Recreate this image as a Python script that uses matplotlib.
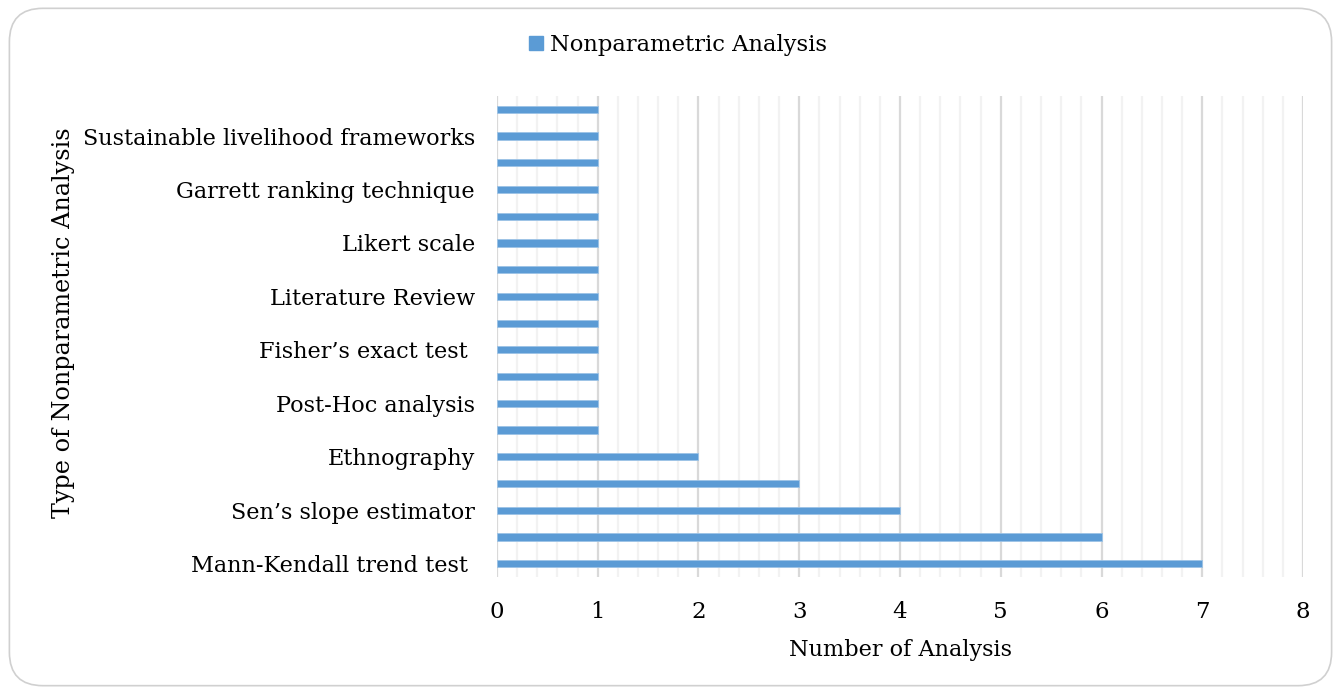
import matplotlib
matplotlib.use("Agg")
import matplotlib.pyplot as plt
from matplotlib.patches import FancyBboxPatch, Patch
from matplotlib.ticker import MultipleLocator

# Categories from bottom to top (only every other label is visible in the reference)
categories = [
    "Mann-Kendall trend test ", "", "Sen\u2019s slope estimator", "", "Ethnography", "",
    "Post-Hoc analysis", "", "Fisher\u2019s exact test ", "", "Literature Review", "",
    "Likert scale", "", "Garrett ranking technique", "", "Sustainable livelihood frameworks", "",
]
values = [7, 6, 4, 3, 2, 1, 1, 1, 1, 1, 1, 1, 1, 1, 1, 1, 1, 1]
x_ticks = [0, 1, 2, 3, 4, 5, 6, 7, 8]
series_name = "Nonparametric Analysis"

font = "DejaVu Serif"
bar_color = "#5B9BD5"

fig = plt.figure(figsize=(13.41, 6.94), dpi=100)
ax = fig.add_axes([0.3706, 0.1686, 0.9717 - 0.3706, 0.8617 - 0.1686])

pos = list(range(len(categories)))
ax.barh(pos, values, height=0.27, color=bar_color, edgecolor="#9DC3E6", linewidth=0.6, zorder=3)

ax.set_xlim(0, 8)
ax.set_ylim(-0.5, len(categories) - 0.5)
ax.set_xticks(x_ticks)
ax.set_xticklabels([str(t) for t in x_ticks], fontsize=16.5, family=font)
ax.xaxis.set_minor_locator(MultipleLocator(0.2))
ax.set_yticks(pos)
ax.set_yticklabels(categories, fontsize=16.1, family=font)
ax.tick_params(axis="both", which="both", length=0)
ax.tick_params(axis="y", pad=16)
ax.tick_params(axis="x", pad=17)

ax.grid(axis="x", which="major", color="#D9D9D9", linewidth=1.6, zorder=0)
ax.grid(axis="x", which="minor", color="#F2F2F2", linewidth=1.6, zorder=0)
ax.grid(axis="y", visible=False)
for s in ax.spines.values():
    s.set_visible(False)

ax.set_xlabel("Number of Analysis", fontsize=16.1, family=font, labelpad=12)
fig.text(0.047, 0.535, "Type of Nonparametric Analysis", rotation=90, fontsize=17.2,
         family=font, ha="center", va="center")

handle = Patch(facecolor=bar_color, edgecolor=bar_color)
fig.legend([handle], [series_name], loc="center", bbox_to_anchor=(0.5055, 0.935),
           frameon=False, prop={"family": font, "size": 16.3},
           handlelength=0.6, handleheight=0.6, handletextpad=0.3)

border = FancyBboxPatch((0.007, 0.012), 0.986, 0.976, boxstyle="round,pad=0,rounding_size=0.025",
                        transform=fig.transFigure, facecolor="none", edgecolor="#D0D0D0",
                        linewidth=1.2, mutation_aspect=1341 / 694)
fig.patches.append(border)

fig.savefig("out.png", dpi=100)
